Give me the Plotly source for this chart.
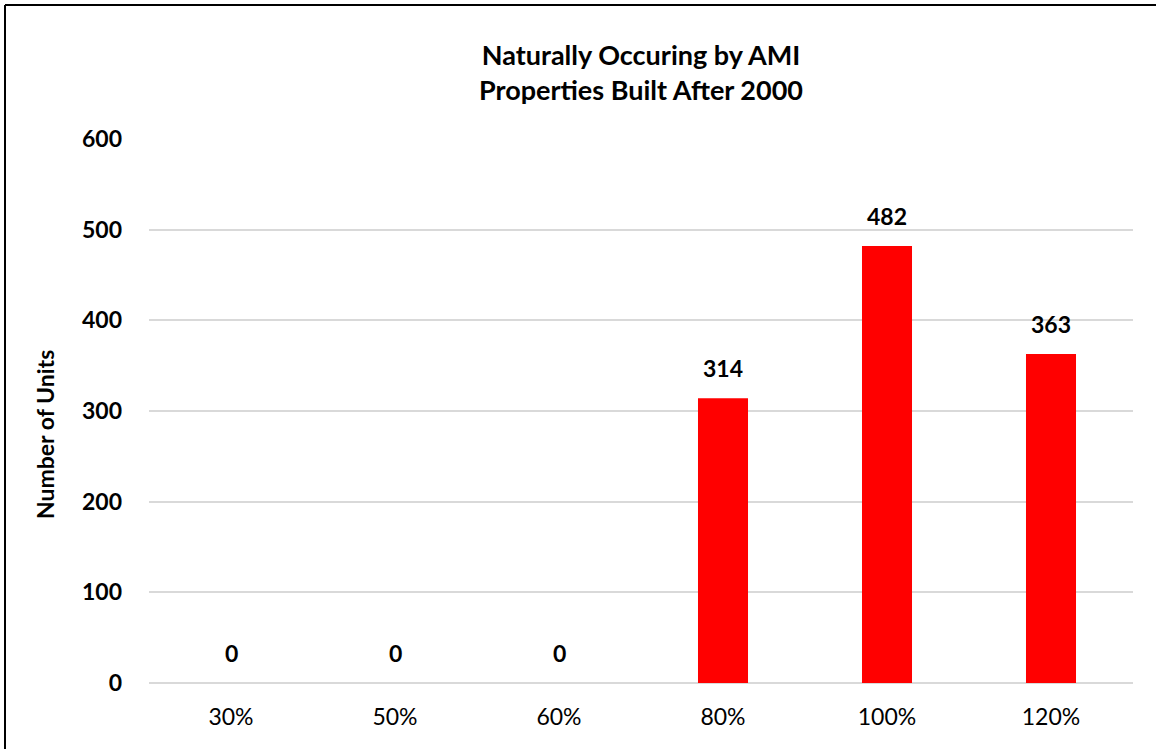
import plotly.graph_objects as go

# AMI bands and unit counts
categories = ["30%", "50%", "60%", "80%", "100%", "120%"]
units = [0, 0, 0, 314, 482, 363]
y_ticks = [0, 100, 200, 300, 400, 500, 600]

W, H = 1156, 749
L, R, T, B = 149, 23, 139, 66
pw, ph = W - L - R, H - T - B

fig = go.Figure()
fig.add_trace(go.Bar(
    x=categories, y=units,
    marker=dict(color="#FF0000", line=dict(width=0)),
    width=0.305,
    hoverinfo="x+y",
))

# value labels above each bar
for c, v in zip(categories, units):
    fig.add_annotation(
        x=c, y=v, text=f"<b>{v}</b>", showarrow=False,
        yanchor="bottom", yshift=14,
        font=dict(family="Lato, sans-serif", size=23, color="#000000"),
    )

# vertical axis title
fig.add_annotation(
    xref="paper", yref="paper",
    x=(45 - L) / pw, y=(T + ph - 435) / ph,
    text="<b>Number of Units</b>", textangle=-90, showarrow=False,
    xanchor="center", yanchor="middle",
    font=dict(family="Lato, sans-serif", size=23, color="#000000"),
)

# frame lines along the top and left edges
fig.add_shape(type="line", xref="paper", yref="paper",
              x0=(5 - L) / pw, x1=(W - L) / pw,
              y0=1 + (T - 5) / ph, y1=1 + (T - 5) / ph,
              line=dict(color="#000000", width=2))
fig.add_shape(type="line", xref="paper", yref="paper",
              x0=(5 - L) / pw, x1=(5 - L) / pw,
              y0=1 + (T - 5) / ph, y1=-(H - (T + ph)) / ph,
              line=dict(color="#000000", width=2))

fig.update_layout(
    width=W, height=H,
    margin=dict(l=L, r=R, t=T, b=B),
    paper_bgcolor="#FFFFFF", plot_bgcolor="#FFFFFF",
    showlegend=False,
    title=dict(
        text="<b>Naturally Occuring by AMI<br>Properties Built After 2000</b>",
        x=0.5, xref="paper", xanchor="center",
        y=1 - 65 / H, yref="container", yanchor="top",
        font=dict(family="Lato, sans-serif", size=27, color="#000000"),
    ),
    xaxis=dict(
        type="category",
        tickfont=dict(family="Lato, sans-serif", size=23, color="#000000"),
        showgrid=False, showline=False, ticks="",
        ticklabelstandoff=18,
    ),
    yaxis=dict(
        range=[0, 600], tickvals=y_ticks,
        tickfont=dict(family="Lato, sans-serif", size=23, color="#000000",
                      weight="bold"),
        showgrid=True, gridcolor="#D9D9D9", gridwidth=2,
        zeroline=True, zerolinecolor="#D9D9D9", zerolinewidth=2,
        showline=False, ticks="",
        ticklabelstandoff=26,
    ),
    bargap=0.7,
)

fig.write_html("out.html")
